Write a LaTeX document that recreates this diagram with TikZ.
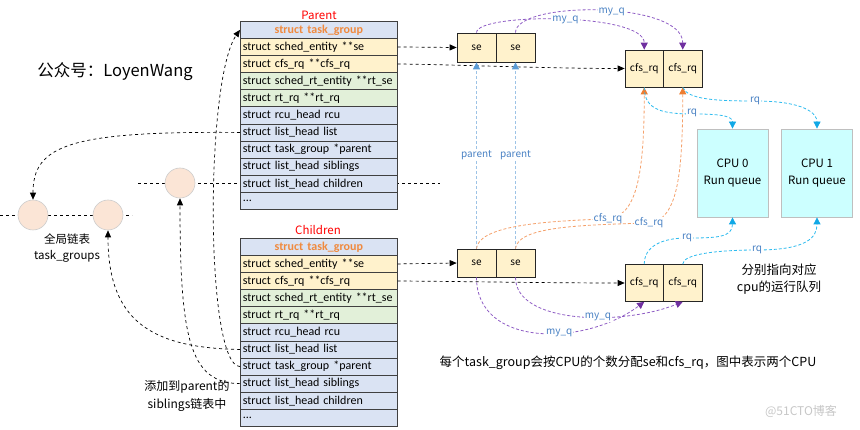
\documentclass[tikz,border=0pt]{standalone}
\usepackage{fontspec}
\setmainfont{Noto Sans CJK SC}
\newfontfamily\rowfont{Carlito}
\usetikzlibrary{arrows.meta}
\definecolor{rowblu}{HTML}{DAE3F3}
\definecolor{rowyel}{HTML}{FFF2CC}
\definecolor{rowgrn}{HTML}{E2F0D9}
\definecolor{headorg}{HTML}{F08A3E}
\definecolor{peach}{HTML}{FBE5D6}
\definecolor{cpucyan}{HTML}{CCFFFF}
\definecolor{lblblue}{HTML}{4A82C4}
\definecolor{myqln}{HTML}{8E5CC4}
\definecolor{myqtip}{HTML}{7030A0}
\definecolor{parln}{HTML}{9DC3E6}
\definecolor{partip}{HTML}{5B9BD5}
\definecolor{cfsln}{HTML}{F4A06A}
\definecolor{cfstip}{HTML}{ED7D31}
\definecolor{rqln}{HTML}{2DBBEE}
\definecolor{rqtip}{HTML}{10A8E6}
\begin{document}
\begin{tikzpicture}[x=1pt,y=-1pt,
  row/.style={draw=black!75,line width=0.6pt,anchor=north west,minimum height=17.1pt,
    text width=152pt,inner xsep=2.5pt,inner ysep=0pt,align=left,font=\rowfont\fontsize{12}{13}\selectfont},
  headrow/.style={row,fill=rowblu,align=center,text=headorg,font=\rowfont\fontsize{12}{13}\selectfont\bfseries},
  title/.style={text=red,font=\fontsize{11.5}{12}\selectfont},
  qbox/.style={draw=black!85,line width=0.7pt,fill=rowyel,minimum width=39pt,inner sep=0pt,
    font=\fontsize{10}{11}\selectfont},
  cpubox/.style={draw=black!25,line width=0.8pt,fill=cpucyan,minimum width=71pt,minimum height=88pt,
    align=center,font=\fontsize{11.5}{17}\selectfont},
  dot/.style={circle,draw=black!20,line width=0.6pt,fill=peach,minimum size=30pt,inner sep=0pt},
  link/.style={dashed,line width=0.7pt,-{Triangle[length=7pt,width=6pt]}},
  plainlink/.style={dashed,line width=0.7pt},
  myq/.style={dash pattern=on 3pt off 2pt,line width=0.8pt,myqln,-{Triangle[length=7pt,width=7pt,color=myqtip]}},
  parentln/.style={dash pattern=on 3pt off 2pt,line width=0.8pt,parln,-{Triangle[length=7pt,width=7pt,color=partip]}},
  cfsarr/.style={dash pattern=on 3pt off 2pt,line width=0.8pt,cfsln,-{Triangle[length=7pt,width=7pt,color=cfstip]}},
  rqarr/.style={dash pattern=on 3pt off 2pt,line width=0.8pt,rqln,-{Triangle[length=7pt,width=7pt,color=rqtip]}},
  lbl/.style={fill=white,inner sep=1pt,text=lblblue,font=\fontsize{10}{10}\selectfont}]
\useasboundingbox (0,0) rectangle (860,430);

% list lines behind circles and table
\coordinate (gl-a) at (0,215);
\coordinate (gl-b) at (132,215);
\coordinate (ch-a) at (138,183);
\coordinate (ch-b) at (440,183);
\draw[plainlink] (gl-a) -- (gl-b);
\draw[plainlink] (ch-a) -- (ch-b);

% task_group tables
\foreach \tb/\ty in {p/21,c/238}{
  \node[headrow] (\tb-head) at (240,\ty) {struct task\_group};
  \foreach \i/\n/\c/\t in {1/se/rowyel/{struct sched\_entity **se},
      2/cfs/rowyel/{struct cfs\_rq **cfs\_rq},
      3/rtse/rowgrn/{struct sched\_rt\_entity **rt\_se},
      4/rtrq/rowgrn/{struct rt\_rq **rt\_rq},
      5/rcu/rowblu/{struct rcu\_head rcu},
      6/list/rowblu/{struct list\_head list},
      7/par/rowblu/{struct task\_group *parent},
      8/sib/rowblu/{struct list\_head siblings},
      9/child/rowblu/{struct list\_head children},
      10/dots/rowblu/{...}}
    \node[row,fill=\c] (\tb-\n) at (240,\ty+17.1*\i) {\mbox{\t}};
}
\node[title] (ptitle) at (319,15) {Parent};
\node[title] (ctitle) at (318,230) {Children};

% circles
\node[dot] (c1) at (33,215) {};
\node[dot] (c2) at (108,215) {};
\node[dot] (c3) at (180,183) {};

% se and cfs_rq boxes
\node[qbox,minimum height=29pt] (pse1) at (476.5,47.5) {se};
\node[qbox,minimum height=29pt] (pse2) at (515.5,47.5) {se};
\node[qbox,minimum height=37pt,minimum width=38.5pt] (pcfs1) at (644.25,68.5) {cfs\_rq};
\node[qbox,minimum height=37pt,minimum width=38.5pt] (pcfs2) at (682.75,68.5) {cfs\_rq};
\node[qbox,minimum height=28pt] (cse1) at (476.5,263) {se};
\node[qbox,minimum height=28pt] (cse2) at (515.5,263) {se};
\node[qbox,minimum height=37pt,minimum width=38.5pt] (ccfs1) at (644.25,283) {cfs\_rq};
\node[qbox,minimum height=37pt,minimum width=38.5pt] (ccfs2) at (682.75,283) {cfs\_rq};

% run queues
\node[cpubox] (cpu0) at (732.5,173) {CPU 0\\Run queue};
\node[cpubox] (cpu1) at (817,173) {CPU 1\\Run queue};

% black links
\draw[link] (p-se.east) -- (pse1.west);
\draw[link] (p-cfs.east) .. controls +(40,0) and +(-80,0) .. (pcfs1.west);
\draw[link] (c-se.east) -- (cse1.west);
\draw[link] (c-cfs.east) .. controls +(40,0) and +(-80,0) .. (ccfs1.west);
\draw[link] (p-list.west) .. controls (70,131) and (33,145) .. (c1.north);
\draw[link] (c-list.west) .. controls (150,348) and (108,320) .. (c2.south);
\draw[link] (c-sib.west) .. controls (190,383) and (180,340) .. (c3.south);
\draw[link] (c-par.west) .. controls (205,366) and (205,80) .. (p-head.west);

% parent
\draw[parentln] (cse1.north) -- node[lbl]{parent} (pse1.south);
\draw[parentln] (cse2.north) -- node[lbl]{parent} (pse2.south);

% cfs_rq
\draw[cfsarr] (cse1.north) .. controls +(2,-22) and +(-70,2) .. (608,219) node[lbl]{cfs\_rq}
  .. controls +(28,-3) and +(0,90) .. (pcfs1.south);
\draw[cfsarr] (cse2.north) .. controls +(2,-22) and +(-70,2) .. (649,223) node[lbl]{cfs\_rq}
  .. controls +(28,-3) and +(0,90) .. (pcfs2.south);

% my_q
\draw[myq] (pse1.north) .. controls +(0,-20) and +(0,-37) .. node[lbl,pos=0.52]{my\_q} (pcfs1.north);
\draw[myq] (pse2.north) .. controls +(0,-32) and +(0,-49) .. node[lbl,pos=0.55]{my\_q} (pcfs2.north);
\draw[myq] (cse1.south) .. controls +(0,70) and +(-60,45) .. node[lbl,pos=0.6]{my\_q} (ccfs1.south);
\draw[myq] (cse2.south) .. controls +(0,47) and +(-60,24) .. node[lbl,pos=0.6]{my\_q} (ccfs2.south);

% rq
\draw[rqarr] (pcfs1.south) .. controls +(0,24) and +(-30,0) .. (695,114)
  .. controls +(28,0) and +(0,-12) .. (cpu0.north);
\draw[rqarr] (pcfs2.south) .. controls +(5,12) and +(-40,0) .. (755,101) node[lbl]{rq}
  .. controls +(50,0) and +(0,-15) .. (cpu1.north);
\draw[rqarr] (ccfs1.north) .. controls +(0,-18) and +(-25,0) .. (687,238) node[lbl]{rq}
  .. controls +(30,0) and +(0,20) .. (cpu0.south);
\draw[rqarr] (ccfs2.north) .. controls +(0,-10) and +(-40,0) .. (757,250) node[lbl]{rq}
  .. controls +(50,0) and +(0,20) .. (cpu1.south);
\node[lbl] (rq0) at (692,113) {rq};

% texts
\node[font=\fontsize{16.5}{18}\selectfont] (wechat) at (115,72) {公众号：LoyenWang};
\node[align=center,font=\fontsize{11.5}{16}\selectfont] (glist) at (67,248) {全局链表\\task\_groups};
\node[align=center,font=\fontsize{12}{18}\selectfont] (addsib) at (187,396) {添加到parent的\\siblings链表中};
\node[align=center,font=\fontsize{12.5}{17}\selectfont] (pointto) at (779,279) {分别指向对应\\cpu的运行队列};
\node[font=\fontsize{12.5}{14}\selectfont] (note) at (628,363) {每个task\_group会按CPU的个数分配se和cfs\_rq，图中表示两个CPU};
\node[text=black!22,font=\fontsize{12}{14}\selectfont] (wmark) at (801,411) {@51CTO博客};
\end{tikzpicture}
\end{document}
